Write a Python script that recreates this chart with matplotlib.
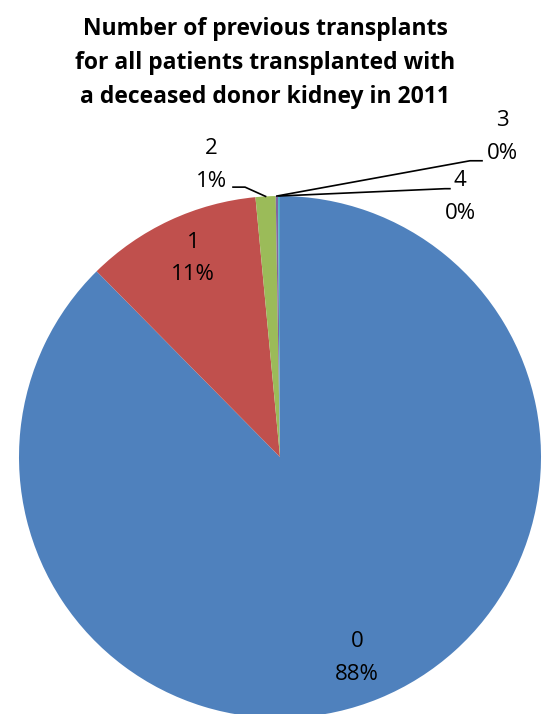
import numpy as np
import matplotlib
matplotlib.use("Agg")
import matplotlib.pyplot as plt

# ---------------------------------------------------------
# Data
# ---------------------------------------------------------
categories = ["0", "1", "2", "3", "4"]
shares = [87.6, 10.9, 1.24, 0.14, 0.12]          # percent of patients
colors = ["#4F81BD", "#C0504D", "#9BBB59", "#8064A2", "#4BACC6"]

title = ("Number of previous transplants\n"
         "for all patients transplanted with\n"
         "a deceased donor kidney in 2011")

# label centres (data coords, pie radius = 1) and leader-line elbows
label_pos = {
    "0": (0.295, -0.770),
    "1": (-0.334, 0.762),
    "2": (-0.264, 1.119),
    "3": (0.851, 1.226),
    "4": (0.690, 0.996),
}
leaders = {
    "2": [(-0.180, 1.034), (-0.134, 1.034)],
    "3": [(0.774, 1.135), (0.728, 1.135)],
    "4": [(0.651, 1.028), (0.632, 1.028)],
}

W, H, DPI = 543, 714, 100
fig = plt.figure(figsize=(W / DPI, H / DPI), dpi=DPI)
fig.patch.set_facecolor("white")

# pie centre and radius in pixels
cx, cy, r = 280, 457, 261
ax = fig.add_axes([(cx - r) / W, (H - cy - r) / H, 2 * r / W, 2 * r / H])

wedges, _ = ax.pie(shares, colors=colors, startangle=90, counterclock=False,
                   radius=1, wedgeprops=dict(linewidth=0))
# pie() resets the limits, so set them afterwards
ax.set_xlim(-1, 1)
ax.set_ylim(-1, 1)
ax.set_aspect("equal")
ax.axis("off")
for w in wedges:
    w.set_clip_on(False)

total = sum(shares)
for cat, val, w in zip(categories, shares, wedges):
    lx, ly = label_pos[cat]
    pct = f"{val / total * 100:.0f}%"
    ax.text(lx, ly, f"{cat}\n{pct}", ha="center", va="center",
            fontsize=16, family="Open Sans", color="black", linespacing=1.7,
            clip_on=False)
    if cat in leaders:
        mid = np.deg2rad((w.theta1 + w.theta2) / 2)
        anchor = (np.cos(mid), np.sin(mid))
        pts = [anchor] + leaders[cat][::-1]
        xs = [p[0] for p in pts]
        ys = [p[1] for p in pts]
        ax.plot(xs, ys, color="black", lw=1.2, clip_on=False)

fig.text(265 / W, 1 - 63 / H, title, ha="center", va="center",
         fontsize=16.5, fontweight="bold", family="Open Sans", linespacing=1.55)

fig.savefig("out.png", dpi=DPI)
